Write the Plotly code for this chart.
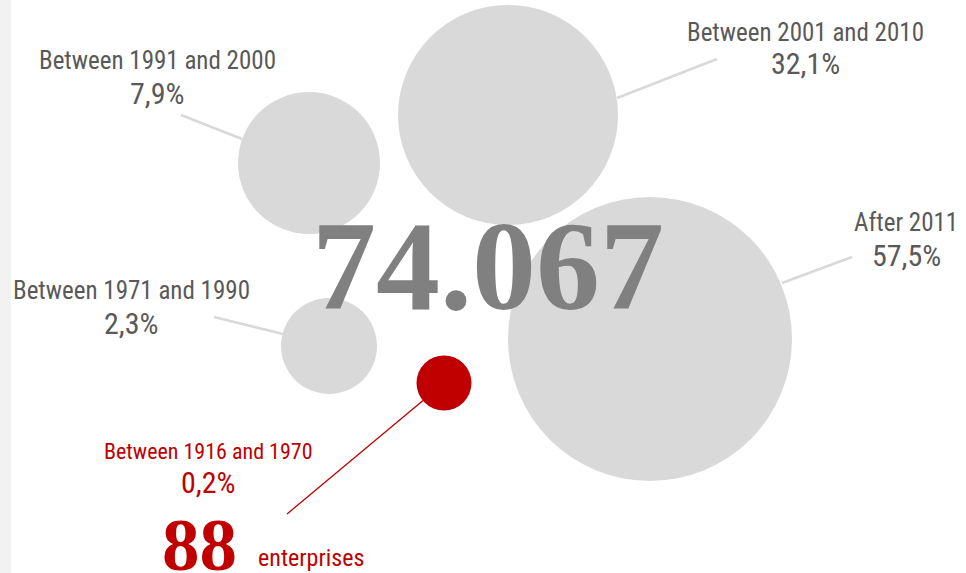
import plotly.graph_objects as go

# ---- data ----
categories = ["Between 1916 and 1970", "Between 1971 and 1990", "Between 1991 and 2000",
              "Between 2001 and 2010", "After 2011"]
shares = [0.2, 2.3, 7.9, 32.1, 57.5]
total_enterprises = 74067
highlight_count = 88
highlight_unit = "enterprises"

# ---- layout (pixel space, y downwards) ----
W, H = 966, 573
bubble_x = [444, 329, 309, 508, 650]
bubble_y = [383, 346, 163, 115, 339]
bubble_d = [55, 96, 142, 220, 284]
label_x = [208, 131, 157, 805, 906]
label_y = [451, 290.5, 60, 32, 222]
share_y = [482, 323.5, 93, 63.5, 255.5]
leader_from = [(287, 514), (214, 317), (181, 115), (717, 59), (852, 257)]
leader_to = [(444, 383), (283, 334), (242, 139), (617, 98), (782, 283)]

GRAY_BUBBLE = "#d9d9d9"
GRAY_TEXT = "#595959"
BIG_GRAY = "#808080"
RED = "#c00000"
SANS = "Liberation Sans Narrow, Arial Narrow, Roboto Condensed, Liberation Sans, sans-serif"
SERIF = "Liberation Serif, Times New Roman, serif"

def fmt_pct(v):
    return f"{v:.1f}".replace(".", ",") + "%"

def fmt_thousands(v):
    return f"{v:,}".replace(",", ".")

fig = go.Figure()

# leader lines (under bubbles)
for i in range(len(categories)):
    col = RED if i == 0 else GRAY_BUBBLE
    wid = 1.3 if i == 0 else 2.5
    fig.add_trace(go.Scatter(
        x=[leader_from[i][0], leader_to[i][0]], y=[leader_from[i][1], leader_to[i][1]],
        mode="lines", line=dict(color=col, width=wid), hoverinfo="skip", showlegend=False))

# bubbles
colors = [RED] + [GRAY_BUBBLE] * (len(categories) - 1)
fig.add_trace(go.Scatter(
    x=bubble_x, y=bubble_y, mode="markers",
    marker=dict(size=bubble_d, sizemode="diameter", color=colors, line=dict(width=0), opacity=1),
    text=categories, hoverinfo="text", showlegend=False))

annotations = []
for i, cat in enumerate(categories):
    col = RED if i == 0 else GRAY_TEXT
    fs = 22 if i == 0 else 25
    annotations.append(dict(x=label_x[i], y=label_y[i], text=cat, showarrow=False,
                            xanchor="center", yanchor="middle",
                            font=dict(family=SANS, size=fs, color=col)))
    annotations.append(dict(x=label_x[i], y=share_y[i], text=fmt_pct(shares[i]), showarrow=False,
                            xanchor="center", yanchor="middle",
                            font=dict(family=SANS, size=30, color=col)))

annotations.append(dict(x=488, y=266, text="<b>" + fmt_thousands(total_enterprises) + "</b>",
                        showarrow=False, xanchor="center", yanchor="middle",
                        font=dict(family=SERIF, size=128, color=BIG_GRAY)))
annotations.append(dict(x=199, y=544, text="<b>" + str(highlight_count) + "</b>",
                        showarrow=False, xanchor="center", yanchor="middle",
                        font=dict(family=SERIF, size=75, color=RED)))
annotations.append(dict(x=256, y=558, text=highlight_unit, showarrow=False,
                        xanchor="left", yanchor="middle",
                        font=dict(family=SANS, size=24, color=RED)))

fig.update_layout(
    width=W, height=H, margin=dict(l=0, r=0, t=0, b=0),
    paper_bgcolor="white", plot_bgcolor="white",
    xaxis=dict(range=[0, W], visible=False, fixedrange=True),
    yaxis=dict(range=[H, 0], visible=False, fixedrange=True),
    annotations=annotations,
    shapes=[dict(type="rect", xref="x", yref="y", x0=0, x1=11, y0=0, y1=H,
                 fillcolor="#f2f2f2", line=dict(width=0), layer="below")],
)

fig.write_html("out.html", config={"displayModeBar": False},
               post_script="document.body.style.margin='0';document.body.style.overflow='hidden';")
